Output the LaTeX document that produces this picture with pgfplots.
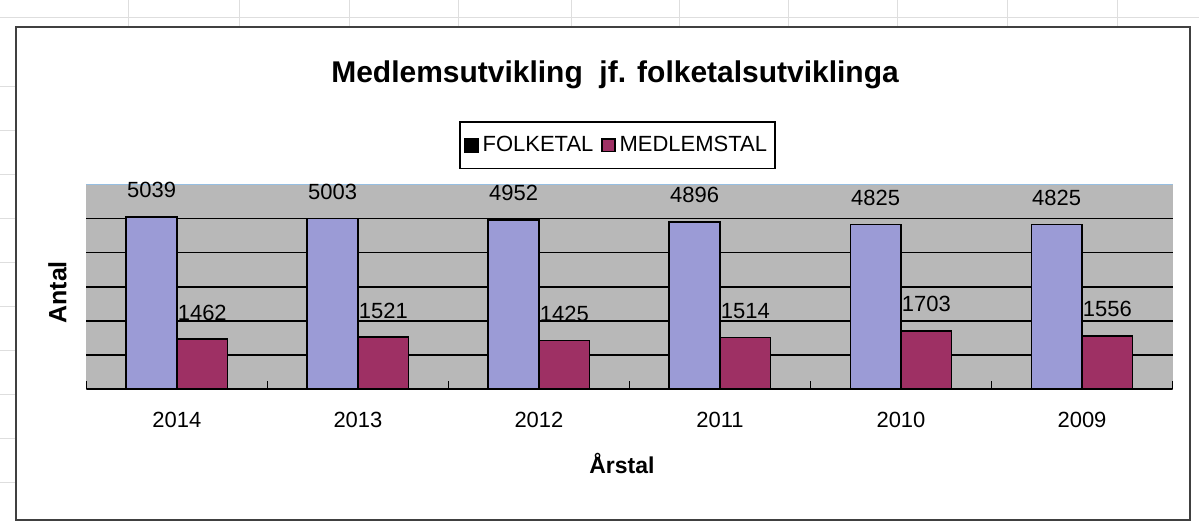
\documentclass[border=0pt]{standalone}
\usepackage{pgfplots}
\pgfplotsset{compat=1.18}
\usepackage{fontspec}
\setmainfont{Liberation Sans}
\definecolor{plotgray}{RGB}{184,184,184}
\definecolor{folk}{RGB}{155,155,214}
\definecolor{medl}{RGB}{158,48,100}
\definecolor{topblue}{RGB}{150,190,225}
\definecolor{sheet}{RGB}{222,222,222}
\begin{document}
\begin{tikzpicture}[x=1pt,y=1pt]
\path (0,0) rectangle (599.5,263.5);
% faint spreadsheet lines
\foreach \xx in {64,119.5,174.5,229,285.5,340,394.5,449,504,559} {\draw[sheet,line width=0.5pt] (\xx,250.5) -- (\xx,263.5);}
\draw[sheet,line width=0.5pt] (0,255) -- (599.5,255);
\foreach \yy in {220.5,198.5,176.5,154.5,132.5,110.5,88.5,66.5,44.5,22.5} {\draw[sheet,line width=0.5pt] (0,\yy) -- (8,\yy);}
\draw[black!75,line width=1pt] (8,3.5) rectangle (595,250);
\begin{axis}[
  at={(43pt,69pt)}, anchor=south west, scale only axis,
  width=543.5pt, height=102.5pt,
  xmin=-0.5, xmax=5.5, ymin=0, ymax=6000,
  axis background/.style={fill=plotgray},
  axis line style={draw=none},
  tick pos=left,
  xtick={0,...,5}, xticklabels={2014,2013,2012,2011,2010,2009},
  xtick style={draw=none},
  xticklabel style={font=\fontsize{11}{13}\selectfont, yshift=-8pt},
  extra x ticks={-0.5,0.5,1.5,2.5,3.5,4.5,5.5},
  extra x tick labels={},
  extra x tick style={xtick style={draw=black, line width=0.8pt}, major tick length=4pt},
  ytick={1000,2000,3000,4000,5000}, yticklabels={},
  ytick style={draw=none},
  ymajorgrids, grid style={black, line width=0.8pt},
  /pgf/number format/1000 sep={},
  /pgf/number format/assume math mode=true,
  nodes near coords={\pgfmathprintnumber[assume math mode=true,1000 sep={}]{\pgfplotspointmeta}},
  every node near coord/.append style={font=\fontsize{11}{13}\selectfont, anchor=base, yshift=9.6pt, black},
  title={Medlemsutvikling\ \ jf. folketalsutviklinga},
  title style={at={(axis description cs:0.4867,1.478)}, anchor=center, font=\bfseries\fontsize{15}{18}\selectfont},
  xlabel={Årstal},
  xlabel style={at={(axis description cs:0.493,-0.365)}, anchor=center, font=\bfseries\fontsize{11.5}{14}\selectfont},
  ylabel={Antal},
  ylabel style={at={(axis description cs:-0.0267,0.473)}, anchor=center, font=\bfseries\fontsize{12.5}{15}\selectfont},
  legend columns=2,
  legend style={at={(0.489,1.19)}, anchor=center, draw=black, line width=0.8pt, fill=white,
     font=\fontsize{11}{13}\selectfont, inner xsep=2pt, inner ysep=5pt,
     /tikz/every even column/.append style={column sep=2pt}},
]
\addplot[ybar, bar width=0.28, bar shift=0, fill=folk, draw=black, line width=0.8pt,
  legend image code/.code={\fill[black] (0pt,-3.2pt) rectangle (6.5pt,3.2pt);}]
  coordinates {(-0.14,5039) (0.86,5003) (1.86,4952) (2.86,4896) (3.86,4825) (4.86,4825)};
\addlegendentry{FOLKETAL}
\addplot[ybar, bar width=0.28, bar shift=0, fill=medl, draw=black, line width=0.8pt,
  legend image code/.code={\filldraw[fill=medl,draw=black,line width=0.6pt] (0pt,-3.2pt) rectangle (6.5pt,3.2pt);}]
  coordinates {(0.14,1462) (1.14,1521) (2.14,1425) (3.14,1514) (4.14,1703) (5.14,1556)};
\addlegendentry{MEDLEMSTAL}
\draw[topblue, line width=0.8pt] (rel axis cs:0,1) -- (rel axis cs:1,1);
\draw[black, line width=1pt] (rel axis cs:0,0) -- (rel axis cs:1,0);
\end{axis}
\end{tikzpicture}
\end{document}
